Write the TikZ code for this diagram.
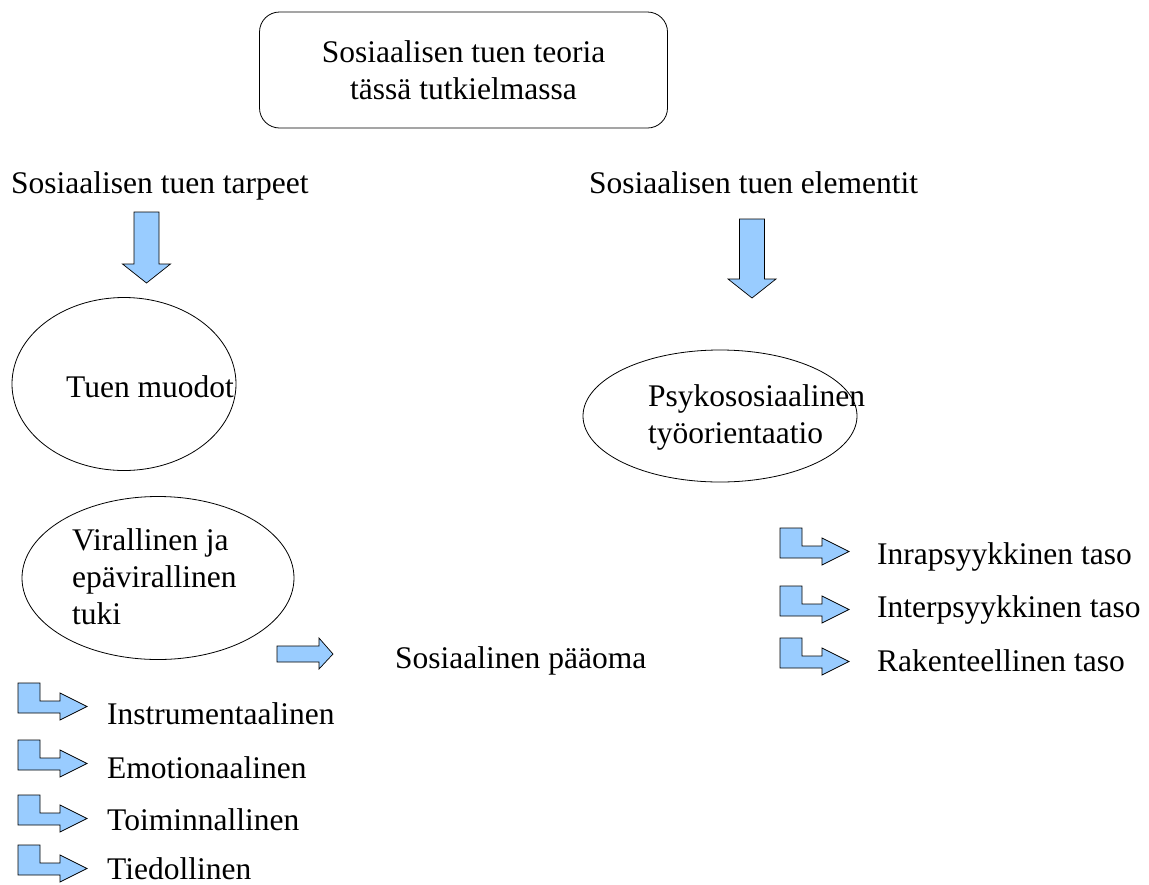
\documentclass[tikz,border=0pt]{standalone}
\usepackage{fontspec}
\setmainfont{Liberation Serif}
\usepackage{tikz}
\usetikzlibrary{shapes.geometric,positioning}
\usepackage{xcolor}
\definecolor{nuolensininen}{HTML}{99CCFF}

\begin{document}
\begin{tikzpicture}[x=1pt,y=-1pt,
    font=\fontsize{31.5}{37}\selectfont,
    teksti/.style={anchor=base west,inner sep=0pt},
    monirivi/.style={anchor=north west,inner sep=0pt,align=left},
    kehys/.style={draw,line width=0.8pt},
    nuoli/.style={draw,line width=0.7pt,fill=nuolensininen,line join=miter},
    pics/alas/.style={code={
      \draw[nuoli] (-12.5,0) -- (12.5,0) -- (12.5,#1-19) -- (24,#1-19)
        -- (0,#1) -- (-24,#1-19) -- (-12.5,#1-19) -- cycle;}},
    pics/oikea/.style={code={
      \draw[nuoli] (0,-8) -- (42,-8) -- (42,-16) -- (56,0) -- (42,15)
        -- (42,8) -- (0,8) -- cycle;}},
    pics/kulma/.style={code={
      \draw[nuoli] (0,0) -- (22,0) -- (22,18) -- (42,18) -- (42,10) -- (69,23.5)
        -- (42,37) -- (42,30) -- (0,30) -- cycle;}}]
  % Kuvan rajat
  \useasboundingbox (0,0) rectangle (1149,884);

  % Otsikkolaatikko
  \node[kehys,rounded corners=20pt,minimum width=408pt,minimum height=116pt,
        align=center] (teoria) at (463.5,70)
        {Sosiaalisen tuen teoria\\tässä tutkielmassa};

  % Kaksi haaraa
  \node[teksti] (tarpeet) at (11,193) {Sosiaalisen tuen tarpeet};
  \node[teksti] (elementit) at (589,193) {Sosiaalisen tuen elementit};
  \pic at (146.5,212) {alas=71};
  \pic at (752,219) {alas=79};

  % Ellipsit
  \node[kehys,ellipse,minimum width=224pt,minimum height=173pt] (muodot) at (124,384) {};
  \node[teksti] (muodotteksti) at (66,397) {Tuen muodot};
  \node[kehys,ellipse,minimum width=274pt,minimum height=132pt] (orientaatio) at (720,416) {};
  \node[monirivi] (orientaatioteksti) at (648,384) {Psykososiaalinen\\työorientaatio};
  \node[kehys,ellipse,minimum width=272pt,minimum height=163pt] (tuki) at (158,578) {};
  \node[monirivi] (tukiteksti) at (72,528) {Virallinen ja\\epävirallinen\\tuki};

  % Sosiaalinen pääoma
  \pic at (277,654) {oikea};
  \node[teksti] (paaoma) at (395,668) {Sosiaalinen pääoma};

  % Tuen muotojen luettelo
  \foreach \ya/\yt/\i/\nimi in {683/724/1/Instrumentaalinen,740/778/2/Emotionaalinen,
      795/830/3/Toiminnallinen,845/879/4/Tiedollinen} {
    \pic at (18,\ya) {kulma};
    \node[teksti] (muoto\i) at (107,\yt) {\nimi};
  }

  % Tasot
  \foreach \ya/\yt/\i/\nimi in {528/564/1/Inrapsyykkinen taso,586/617/2/Interpsyykkinen taso,
      638/671/3/Rakenteellinen taso} {
    \pic at (780,\ya) {kulma};
    \node[teksti] (taso\i) at (877,\yt) {\nimi};
  }
\end{tikzpicture}
\end{document}
